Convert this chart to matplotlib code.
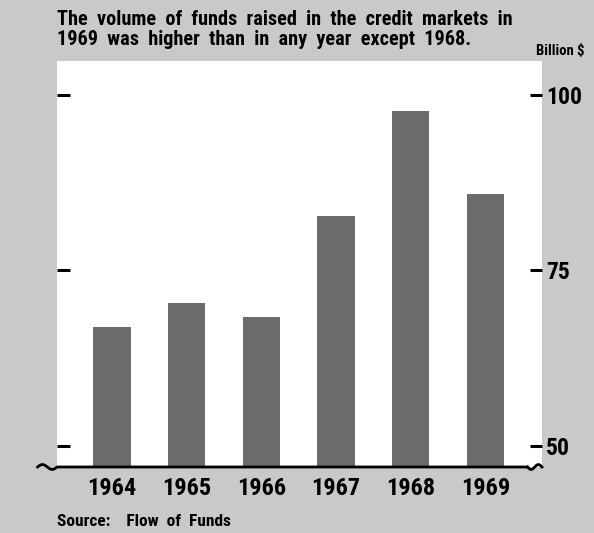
import numpy as np
import matplotlib
matplotlib.use("Agg")
import matplotlib.pyplot as plt
from matplotlib.lines import Line2D

years = ["1964", "1965", "1966", "1967", "1968", "1969"]
values = [66.9, 70.4, 68.4, 82.7, 97.7, 85.8]
yticks = [50, 75, 100]

BG = "#c9c9c9"
BAR = "#6b6b6b"
FONT = ["Roboto Condensed", "DejaVu Sans"]

fig = plt.figure(figsize=(5.94, 5.33), dpi=100, facecolor=BG)
W, H = 594, 533
ax = fig.add_axes([57 / W, 1 - 467 / H, (542 - 57) / W, (467 - 61) / H])
ax.set_facecolor("white")

x = np.arange(len(years))
ax.bar(x, values, width=0.5, color=BAR, zorder=2)
ax.set_xlim(-0.737, 5.76)
ax.set_ylim(47, 104.8)

for s in ax.spines.values():
    s.set_visible(False)

ax.set_xticks(x)
ax.set_xticklabels(years, fontfamily=FONT, fontweight="bold", fontsize=17.5)
ax.tick_params(axis="x", length=0, pad=7)

ax.set_yticks(yticks)
ax.tick_params(axis="y", which="both", direction="in", length=9, width=2.2,
               left=True, right=True, labelleft=False, labelright=True,
               pad=3, labelsize=17)
for lab in ax.get_yticklabels():
    lab.set_fontfamily(FONT)
    lab.set_fontweight("bold")

# baseline with wavy break ends
t = np.linspace(0, 1, 60)
xl = -0.04 + 0.04 * t
ax.add_line(Line2D(np.concatenate([xl, [0.0, 0.97]]),
                   np.concatenate([np.sin(t * 2 * np.pi) * 0.006, [0.0, 0.0]]),
                   transform=ax.transAxes, color="black", lw=2, clip_on=False, zorder=5))
xr = 0.97 + 0.03 * t
ax.add_line(Line2D(xr, -np.sin(t * 2 * np.pi) * 0.006,
                   transform=ax.transAxes, color="black", lw=2, clip_on=False, zorder=5))

fig.text(57 / W, 1 - 10 / H,
         "The  volume  of  funds  raised  in  the  credit  markets  in\n"
         "1969  was  higher  than  in  any  year  except  1968.",
         ha="left", va="top", fontfamily=FONT, fontweight="bold", fontsize=14.6,
         linespacing=1.08)
fig.text(585 / W, 1 - 51 / H, "Billion $", ha="right", va="center",
         fontfamily=FONT, fontweight="bold", fontsize=10.5)
fig.text(57 / W, 1 - 521 / H, "Source:    Flow  of  Funds", ha="left", va="center",
         fontfamily=FONT, fontweight="bold", fontsize=12.5)

fig.savefig("out.png", dpi=100, facecolor=BG)
